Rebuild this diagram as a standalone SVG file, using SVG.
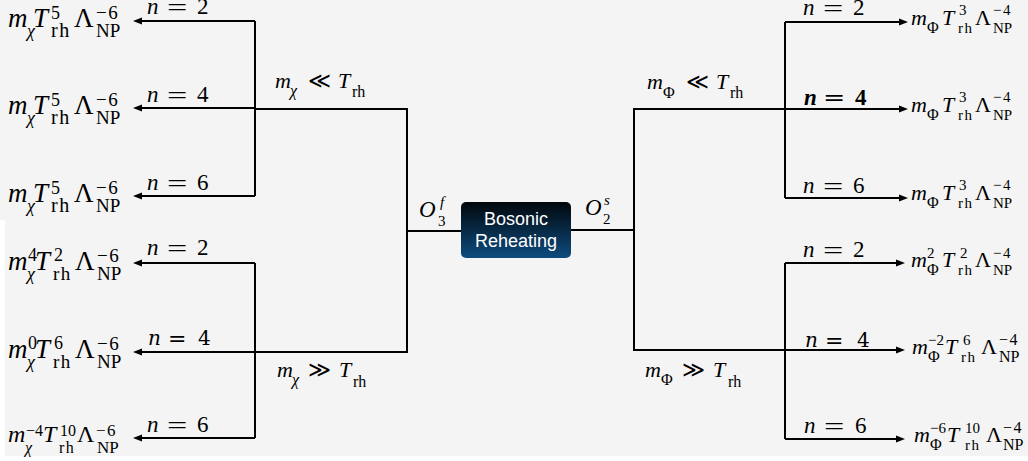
<svg xmlns="http://www.w3.org/2000/svg" width="1028" height="461" viewBox="0 0 1028 461">
<defs>
<style>
.ln{fill:none;stroke:#000;stroke-width:2}
.ar{fill:none;stroke:#000;stroke-width:2;marker-end:url(#ah)}
.s{font-family:"Liberation Serif","DejaVu Serif",serif;fill:#000}
.i{font-style:italic}
.d{font-family:"DejaVu Serif",serif;fill:#000}
.sym{font-family:"DejaVu Sans",sans-serif;fill:#000}
.bt{font-family:"Liberation Sans",Arial,sans-serif;fill:#fff;font-size:18px;text-anchor:middle}
.ls{letter-spacing:1.5px}
.eq{font-family:"Liberation Serif","DejaVu Serif",serif;fill:#000;font-size:24px}
</style>
<marker id="ah" markerUnits="userSpaceOnUse" markerWidth="10" markerHeight="8" refX="6" refY="4" orient="auto">
<path d="M0,0.5 L9,4 L0,7.5 z" fill="#000"/>
</marker>
<linearGradient id="bg1" x1="0" y1="0" x2="0" y2="1">
<stop offset="0" stop-color="#02070c"/>
<stop offset="1" stop-color="#0d4c7e"/>
</linearGradient>
</defs>
<rect width="1028" height="461" fill="#ffffff"/>
<path d="M0 0 H1028 V456 H5 V220 H0 Z" fill="#f4f4f4"/>

<g id="connectors">
<path class="ln" d="M461 231 H407 V109 H255 M407 231 V352 H255"/>
<path class="ln" d="M255 21 V196 M255 263 V438"/>
<path class="ar" d="M255 21 H136"/>
<path class="ar" d="M255 108 H136"/>
<path class="ar" d="M255 196 H136"/>
<path class="ar" d="M255 263 H136"/>
<path class="ar" d="M255 352 H136"/>
<path class="ar" d="M255 438 H136"/>
<path class="ln" d="M571 230 H634 V109 H785 M634 230 V350 H785"/>
<path class="ln" d="M785 22 V198 M785 263 V439"/>
<path class="ar" d="M785 22 H905"/>
<path class="ar" d="M785 109 H905"/>
<path class="ar" d="M785 198 H905"/>
<path class="ar" d="M785 263 H902"/>
<path class="ar" d="M785 350 H902"/>
<path class="ar" d="M785 439 H902"/>
</g>

<g id="center">
<rect x="461" y="202" width="110" height="56" rx="5" fill="url(#bg1)"/>
<text class="bt" x="516" y="225">Bosonic</text>
<text class="bt" x="516" y="247">Reheating</text>
</g>

<g id="op-labels">
<text class="s i" x="419" y="217" font-size="23">O</text>
<text class="s i" x="440" y="207" font-size="15">f</text>
<text class="s" x="438" y="226" font-size="15">3</text>
<text class="s i" x="585" y="215" font-size="23">O</text>
<text class="s i" x="604" y="205" font-size="15">s</text>
<text class="s" x="603" y="224" font-size="15">2</text>
</g>

<g id="cond-labels">
<text class="s i" x="275" y="88" font-size="22">m</text>
<text class="s i" x="290" y="96" font-size="16">χ</text>
<text class="sym" x="308" y="88" font-size="22">≪</text>
<text class="s i" x="338" y="88" font-size="22">T</text>
<text class="s" x="352" y="97" font-size="16">rh</text>
<text class="s i" x="277" y="377" font-size="22">m</text>
<text class="s i" x="292" y="385" font-size="16">χ</text>
<text class="sym" x="308" y="377" font-size="22">≫</text>
<text class="s i" x="339" y="377" font-size="22">T</text>
<text class="s" x="353" y="387" font-size="16">rh</text>
<text class="s i" x="647" y="89" font-size="22">m</text>
<text class="s" x="663" y="98" font-size="16">Φ</text>
<text class="sym" x="686" y="89" font-size="22">≪</text>
<text class="s i" x="716" y="89" font-size="22">T</text>
<text class="s" x="730" y="98" font-size="16">rh</text>
<text class="s i" x="645" y="377" font-size="22">m</text>
<text class="s" x="661" y="385" font-size="16">Φ</text>
<text class="sym" x="682" y="377" font-size="22">≫</text>
<text class="s i" x="713" y="377" font-size="22">T</text>
<text class="s" x="728" y="387" font-size="16">rh</text>
</g>

<g id="n-labels">
<text class="s" y="14" font-size="23"><tspan class="i" x="147">n</tspan><tspan x="197">2</tspan></text>
<text class="eq" transform="translate(167,15) scale(1.5,1)">=</text>
<text class="s" y="102" font-size="23"><tspan class="i" x="147">n</tspan><tspan x="197">4</tspan></text>
<text class="eq" transform="translate(167,103) scale(1.5,1)">=</text>
<text class="s" y="190" font-size="23"><tspan class="i" x="147">n</tspan><tspan x="197">6</tspan></text>
<text class="eq" transform="translate(167,191) scale(1.5,1)">=</text>
<text class="s" y="255" font-size="23"><tspan class="i" x="147">n</tspan><tspan x="197">2</tspan></text>
<text class="eq" transform="translate(167,256) scale(1.5,1)">=</text>
<text class="d" y="345" font-size="20"><tspan class="i" x="148">n</tspan><tspan x="198">4</tspan></text>
<text class="d" x="168" y="346" font-size="22">=</text>
<text class="s" y="432" font-size="23"><tspan class="i" x="147">n</tspan><tspan x="197">6</tspan></text>
<text class="eq" transform="translate(167,433) scale(1.5,1)">=</text>
<text class="s" y="15" font-size="23"><tspan class="i" x="803">n</tspan><tspan x="853">2</tspan></text>
<text class="eq" transform="translate(823,16) scale(1.5,1)">=</text>
<text class="s" y="105" font-size="23" font-weight="bold"><tspan class="i" x="804">n</tspan><tspan x="855">4</tspan></text>
<text class="eq" font-weight="bold" transform="translate(824,106) scale(1.5,1)">=</text>
<text class="s" y="193" font-size="23"><tspan class="i" x="803">n</tspan><tspan x="853">6</tspan></text>
<text class="eq" transform="translate(823,194) scale(1.5,1)">=</text>
<text class="s" y="257" font-size="23"><tspan class="i" x="803">n</tspan><tspan x="853">2</tspan></text>
<text class="eq" transform="translate(823,258) scale(1.5,1)">=</text>
<text class="d" y="347" font-size="20"><tspan class="i" x="805">n</tspan><tspan x="857">4</tspan></text>
<text class="d" x="825" y="348" font-size="22">=</text>
<text class="s" y="433" font-size="23"><tspan class="i" x="804">n</tspan><tspan x="855">6</tspan></text>
<text class="eq" transform="translate(824,434) scale(1.5,1)">=</text>
</g>

<g id="L1">
<text class="s i" x="8" y="27" font-size="27">m</text>
<text class="s i" x="27" y="37" font-size="18">χ</text>
<text class="s i" x="33" y="27" font-size="27">T</text>
<text class="s" x="51" y="19" font-size="18">5</text>
<text class="s ls" x="51" y="37" font-size="20">rh</text>
<text class="s" x="74" y="27" font-size="27">Λ</text>
<text class="s ls" x="96" y="19" font-size="19">−6</text>
<text class="s" x="96" y="37" font-size="19">NP</text>
</g>
<g id="L2">
<text class="s i" x="8" y="114" font-size="27">m</text>
<text class="s i" x="27" y="124" font-size="18">χ</text>
<text class="s i" x="33" y="114" font-size="27">T</text>
<text class="s" x="51" y="106" font-size="18">5</text>
<text class="s ls" x="51" y="124" font-size="20">rh</text>
<text class="s" x="74" y="114" font-size="27">Λ</text>
<text class="s ls" x="96" y="106" font-size="19">−6</text>
<text class="s" x="96" y="124" font-size="19">NP</text>
</g>
<g id="L3">
<text class="s i" x="8" y="202" font-size="27">m</text>
<text class="s i" x="27" y="212" font-size="18">χ</text>
<text class="s i" x="33" y="202" font-size="27">T</text>
<text class="s" x="51" y="194" font-size="18">5</text>
<text class="s ls" x="51" y="212" font-size="20">rh</text>
<text class="s" x="74" y="202" font-size="27">Λ</text>
<text class="s ls" x="96" y="194" font-size="19">−6</text>
<text class="s" x="96" y="212" font-size="19">NP</text>
</g>
<g id="L4">
<text class="s i" x="8" y="270" font-size="27">m</text>
<text class="s" x="28" y="261" font-size="18">4</text>
<text class="s i" x="27" y="280" font-size="18">χ</text>
<text class="s i" x="35" y="270" font-size="27">T</text>
<text class="s" x="54" y="261" font-size="18">2</text>
<text class="s ls" x="53" y="280" font-size="19">rh</text>
<text class="s" x="75" y="270" font-size="27">Λ</text>
<text class="s ls" x="97" y="262" font-size="19">−6</text>
<text class="s" x="97" y="280" font-size="19">NP</text>
</g>
<g id="L5">
<text class="s i" x="8" y="358" font-size="27">m</text>
<text class="s" x="28" y="349" font-size="18">0</text>
<text class="s i" x="27" y="368" font-size="18">χ</text>
<text class="s i" x="35" y="358" font-size="27">T</text>
<text class="s" x="54" y="349" font-size="18">6</text>
<text class="s ls" x="53" y="368" font-size="19">rh</text>
<text class="s" x="75" y="358" font-size="27">Λ</text>
<text class="s ls" x="97" y="350" font-size="19">−6</text>
<text class="s" x="97" y="368" font-size="19">NP</text>
</g>
<g id="L6">
<text class="s i" x="8" y="442" font-size="24">m</text>
<text class="s" x="26" y="436" font-size="16">−4</text>
<text class="s i" x="25" y="453" font-size="16">χ</text>
<text class="s i" x="43" y="442" font-size="24">T</text>
<text class="s" x="60" y="436" font-size="16">10</text>
<text class="s ls" x="59" y="453" font-size="16">rh</text>
<text class="s" x="77" y="442" font-size="24">Λ</text>
<text class="s ls" x="96" y="436" font-size="17">−6</text>
<text class="s" x="97" y="453" font-size="17">NP</text>
</g>

<g id="R1">
<text class="s i" x="911" y="25" font-size="22">m</text>
<text class="s" x="927" y="33" font-size="16">Φ</text>
<text class="s i" x="942" y="25" font-size="22">T</text>
<text class="s" x="959" y="15" font-size="15">3</text>
<text class="s ls" x="958" y="33" font-size="15">rh</text>
<text class="s" x="975" y="25" font-size="22">Λ</text>
<text class="s ls" x="993" y="15" font-size="15">−4</text>
<text class="s" x="993" y="33" font-size="15">NP</text>
</g>
<g id="R2">
<text class="s i" x="911" y="112" font-size="22">m</text>
<text class="s" x="927" y="120" font-size="16">Φ</text>
<text class="s i" x="942" y="112" font-size="22">T</text>
<text class="s" x="959" y="102" font-size="15">3</text>
<text class="s ls" x="958" y="120" font-size="15">rh</text>
<text class="s" x="975" y="112" font-size="22">Λ</text>
<text class="s ls" x="993" y="102" font-size="15">−4</text>
<text class="s" x="993" y="120" font-size="15">NP</text>
</g>
<g id="R3">
<text class="s i" x="911" y="200" font-size="22">m</text>
<text class="s" x="927" y="208" font-size="16">Φ</text>
<text class="s i" x="942" y="200" font-size="22">T</text>
<text class="s" x="959" y="190" font-size="15">3</text>
<text class="s ls" x="958" y="208" font-size="15">rh</text>
<text class="s" x="975" y="200" font-size="22">Λ</text>
<text class="s ls" x="993" y="190" font-size="15">−4</text>
<text class="s" x="993" y="208" font-size="15">NP</text>
</g>
<g id="R4">
<text class="s i" x="911" y="267" font-size="22">m</text>
<text class="s" x="927" y="258" font-size="15">2</text>
<text class="s" x="927" y="275" font-size="16">Φ</text>
<text class="s i" x="942" y="267" font-size="22">T</text>
<text class="s" x="960" y="258" font-size="15">2</text>
<text class="s ls" x="958" y="275" font-size="15">rh</text>
<text class="s" x="975" y="267" font-size="22">Λ</text>
<text class="s ls" x="993" y="258" font-size="15">−4</text>
<text class="s" x="993" y="275" font-size="15">NP</text>
</g>
<g id="R5">
<text class="s i" x="912" y="354" font-size="22">m</text>
<text class="s" x="928" y="345" font-size="15">−2</text>
<text class="s" x="928" y="362" font-size="16">Φ</text>
<text class="s i" x="945" y="354" font-size="22">T</text>
<text class="s" x="963" y="345" font-size="15">6</text>
<text class="s ls" x="961" y="362" font-size="15">rh</text>
<text class="s" x="981" y="354" font-size="22">Λ</text>
<text class="s ls" x="999" y="345" font-size="16">−4</text>
<text class="s" x="999" y="362" font-size="16">NP</text>
</g>
<g id="R6">
<text class="s i" x="914" y="442" font-size="22">m</text>
<text class="s" x="930" y="433" font-size="15">−6</text>
<text class="s" x="930" y="450" font-size="16">Φ</text>
<text class="s i" x="947" y="442" font-size="22">T</text>
<text class="s" x="965" y="433" font-size="15">10</text>
<text class="s ls" x="965" y="450" font-size="15">rh</text>
<text class="s" x="986" y="442" font-size="22">Λ</text>
<text class="s ls" x="1003" y="433" font-size="16">−4</text>
<text class="s" x="1003" y="450" font-size="16">NP</text>
</g>
</svg>
